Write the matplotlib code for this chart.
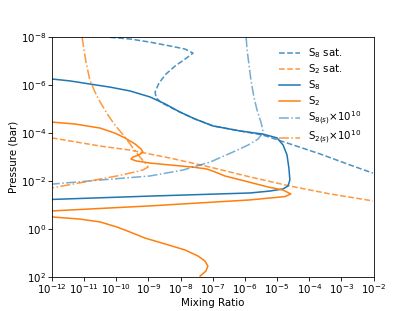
import numpy as np
import matplotlib
matplotlib.use('Agg')
import matplotlib.pyplot as plt

# log10 mixing ratio / log10 pressure (bar)
s8_sat_x = [-10.19, -9.57, -8.95, -8.33, -7.86, -7.61, -7.86, -8.17, -8.45, -8.67,
            -8.79, -8.76, -8.58, -8.02, -7.55, -6.99, -6.15, -5.44, -4.60, -3.66,
            -2.73, -2.02]
s8_sat_p = [-8.0, -7.93, -7.80, -7.64, -7.51, -7.34, -7.09, -6.80, -6.47, -6.09,
            -5.72, -5.47, -5.26, -4.88, -4.59, -4.30, -4.09, -3.92, -3.55, -3.13,
            -2.67, -2.33]

s2_sat_x = [-12.0, -10.50, -9.57, -8.33, -7.08, -5.84, -4.60, -3.35, -2.02]
s2_sat_p = [-3.80, -3.46, -3.29, -2.96, -2.58, -2.17, -1.79, -1.46, -1.17]

s8_x = [-12.0, -11.44, -10.82, -10.19, -9.57, -8.95, -8.48, -8.02, -7.55, -6.99,
        -6.15, -5.44, -5.00, -4.81, -4.69, -4.63, -4.60, -4.66, -4.81, -5.22,
        -5.84, -8.95, -12.0]
s8_p = [-6.26, -6.18, -6.05, -5.92, -5.76, -5.51, -5.22, -4.88, -4.59, -4.30,
        -4.09, -3.96, -3.80, -3.50, -3.09, -2.54, -2.04, -1.79, -1.67, -1.58,
        -1.50, -1.37, -1.23]

s2_x = [-12.0, -11.28, -10.50, -10.04, -9.73, -9.42, -9.23, -9.17, -9.29, -9.48,
        -9.54, -9.39, -8.95, -8.33, -7.61, -7.18, -6.93, -6.62, -6.00, -5.28,
        -4.81, -4.57, -4.75, -5.22, -5.84, -8.95, -12.0,
        np.nan,
        -12.0, -11.13, -10.50, -9.98, -9.57, -9.11, -8.48, -7.86, -7.46, -7.24,
        -7.15, -7.21, -7.39]
s2_p = [-4.46, -4.38, -4.21, -4.00, -3.80, -3.55, -3.34, -3.21, -3.09, -3.00,
        -2.92, -2.84, -2.75, -2.67, -2.58, -2.50, -2.38, -2.21, -2.00, -1.75,
        -1.62, -1.46, -1.35, -1.29, -1.21, -0.96, -0.75,
        np.nan,
        -0.50, -0.41, -0.29, -0.08, 0.13, 0.38, 0.63, 0.88, 1.13, 1.34,
        1.55, 1.76, 1.97]

s8s_x = [-5.96, -5.93, -5.87, -5.81, -5.72, -5.62, -5.50, -5.44, -5.47, -5.59,
         -5.90, -6.37, -7.08, -7.92, -8.95, -10.50, -12.0]
s8s_p = [-8.0, -7.47, -6.84, -6.22, -5.51, -4.96, -4.46, -4.13, -3.96, -3.75,
         -3.50, -3.21, -2.79, -2.46, -2.21, -2.04, -1.87]

s2s_x = [-11.06, -11.00, -10.94, -10.82, -10.66, -10.50, -10.26, -10.04, -9.73, -9.48,
         -9.26, -9.07, -9.01, -9.17, -9.57, -9.98, -10.82, -12.0]
s2s_p = [-8.0, -7.47, -6.97, -6.22, -5.72, -5.30, -4.76, -4.34, -3.84, -3.38,
         -3.00, -2.71, -2.58, -2.46, -2.33, -2.21, -2.00, -1.71]


def tenpow(a):
    return 10.0 ** np.asarray(a, dtype=float)


DPI = 74
fig, ax = plt.subplots(figsize=(415 / DPI, 311 / DPI), dpi=DPI)

ax.plot(tenpow(s8_sat_x), tenpow(s8_sat_p), '--', color='C0', alpha=0.8, label='S$_8$ sat.')
ax.plot(tenpow(s2_sat_x), tenpow(s2_sat_p), '--', color='C1', alpha=0.8, label='S$_2$ sat.')
ax.plot(tenpow(s8_x), tenpow(s8_p), '-', color='C0', label='S$_8$')
ax.plot(tenpow(s2_x), tenpow(s2_p), '-', color='C1', label='S$_2$')
ax.plot(tenpow(s8s_x), tenpow(s8s_p), '-.', color='C0', alpha=0.6,
        label=r'S$_{8(s)}$$\times$10$^{10}$')
ax.plot(tenpow(s2s_x), tenpow(s2s_p), '-.', color='C1', alpha=0.8,
        label=r'S$_{2(s)}$$\times$10$^{10}$')

ax.set_xscale('log'); ax.set_yscale('log')
ax.set_xlim(1e-12, 1e-2)
ax.set_ylim(1e2, 1e-8)
ax.set_xticks([10.0 ** k for k in range(-12, -1)])
ax.set_yticks([10.0 ** k for k in range(-8, 3, 2)])
ax.minorticks_off()
ax.tick_params(pad=2)
ax.set_xlabel('Mixing Ratio', labelpad=2)
ax.set_ylabel('Pressure (bar)', labelpad=2)
ax.legend(loc='upper right', bbox_to_anchor=(0.99, 1.0), frameon=False, labelspacing=0.2)

fig.savefig('out.png', dpi=DPI)
